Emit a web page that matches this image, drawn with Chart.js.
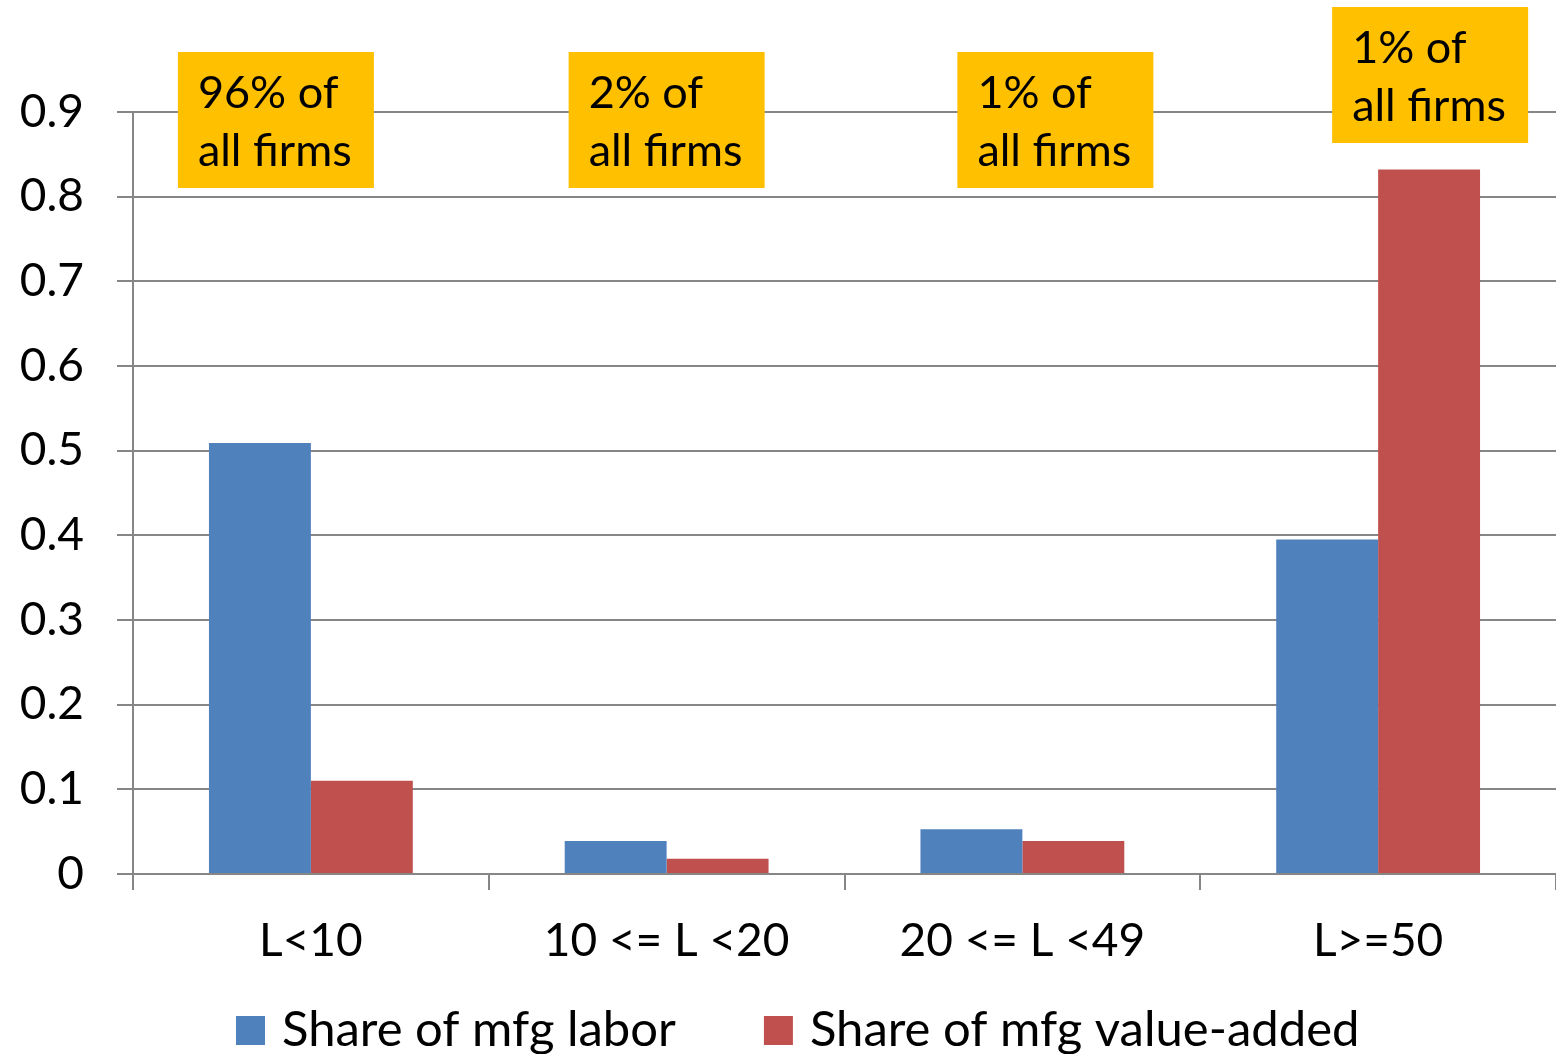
<!DOCTYPE html>
<html>
<head>
<meta charset="utf-8">
<script src="https://cdn.jsdelivr.net/npm/chart.js@4.4.1/dist/chart.umd.min.js"></script>
<style>
  html, body { margin: 0; padding: 0; background: #fff; }
  #wrap { width: 1556px; height: 1054px; }
</style>
</head>
<body>
<div id="wrap"><canvas id="firm-size-chart"></canvas></div>
<script>
const sizeClasses = ['L<10', '10 <= L <20', '20 <= L <49', 'L>=50'];
const laborShare  = [0.509, 0.039, 0.053, 0.395];
const valueShare  = [0.110, 0.018, 0.039, 0.832];
const firmShareNotes = ['96% of\nall firms', '2% of\nall firms', '1% of\nall firms', '1% of\nall firms'];
const yTicks = [0, 0.1, 0.2, 0.3, 0.4, 0.5, 0.6, 0.7, 0.8, 0.9];

const FONT = 'Lato, "Open Sans", sans-serif';
const GRID = '#868686';

// yellow note boxes above each size class (offsets from the class centre / top of plot)
const noteBoxes = [
  { dx: -133, dy: -60 },
  { dx: -98,  dy: -60 },
  { dx: -65,  dy: -60 },
  { dx: -46,  dy: -105 }
];

const notesPlugin = {
  id: 'firmNotes',
  afterDraw(chart) {
    const { ctx, scales: { x }, chartArea } = chart;
    ctx.save();
    ctx.font = `45px ${FONT}`;
    ctx.textBaseline = 'alphabetic';
    ctx.textAlign = 'left';
    firmShareNotes.forEach((txt, i) => {
      const bx = x.getPixelForValue(i) + noteBoxes[i].dx;
      const by = chartArea.top + noteBoxes[i].dy;
      ctx.fillStyle = '#FFC000';
      ctx.fillRect(bx, by, 196, 136);
      ctx.fillStyle = '#000';
      txt.split('\n').forEach((line, k) => {
        ctx.fillText(line, bx + 20, by + 56 + k * 58);
      });
    });
    ctx.restore();
  }
};

// legend row under the axis, square swatch + series name
const legendPlugin = {
  id: 'bottomLegend',
  afterDraw(chart) {
    const { ctx } = chart;
    ctx.save();
    ctx.font = `49px ${FONT}`;
    ctx.textBaseline = 'middle';
    ctx.textAlign = 'left';
    let lx = 236;
    const ly = 1030;
    chart.data.datasets.forEach(ds => {
      ctx.fillStyle = ds.backgroundColor;
      ctx.fillRect(lx, ly - 14, 29, 29);
      ctx.fillStyle = '#000';
      ctx.fillText(ds.label, lx + 46, ly);
      lx += 46 + ctx.measureText(ds.label).width + 88;
    });
    ctx.restore();
  }
};

new Chart(document.getElementById('firm-size-chart'), {
  type: 'bar',
  data: {
    labels: sizeClasses,
    datasets: [
      { label: 'Share of mfg labor', data: laborShare, backgroundColor: '#4F81BD' },
      { label: 'Share of mfg value-added', data: valueShare, backgroundColor: '#C0504D' }
    ]
  },
  options: {
    responsive: true,
    maintainAspectRatio: false,
    animation: false,
    layout: { padding: { top: 112, right: 0, left: 0, bottom: 60 } },
    datasets: { bar: { barPercentage: 1, categoryPercentage: 0.573 } },
    plugins: {
      title: { display: false },
      tooltip: { enabled: false },
      legend: { display: false }
    },
    scales: {
      x: {
        afterFit(scale) { scale.height = 120; },
        grid: { display: true, offset: true, drawOnChartArea: false, drawTicks: true, tickLength: 16, color: GRID, lineWidth: 2 },
        border: { display: true, color: GRID, width: 2 },
        ticks: { font: { family: FONT, size: 46 }, color: '#000', padding: 24, maxRotation: 0 }
      },
      y: {
        min: 0,
        max: 0.9,
        afterFit(scale) { scale.width = 133; },
        afterBuildTicks(scale) { scale.ticks = yTicks.map(v => ({ value: v })); },
        grid: { color: GRID, lineWidth: 2, tickLength: 16 },
        border: { display: true, color: GRID, width: 2 },
        ticks: {
          font: { family: FONT, size: 46 },
          color: '#000',
          padding: 33,
          callback: v => (v === 0 ? '0' : v.toFixed(1))
        }
      }
    }
  },
  plugins: [notesPlugin, legendPlugin]
});
</script>
</body>
</html>
